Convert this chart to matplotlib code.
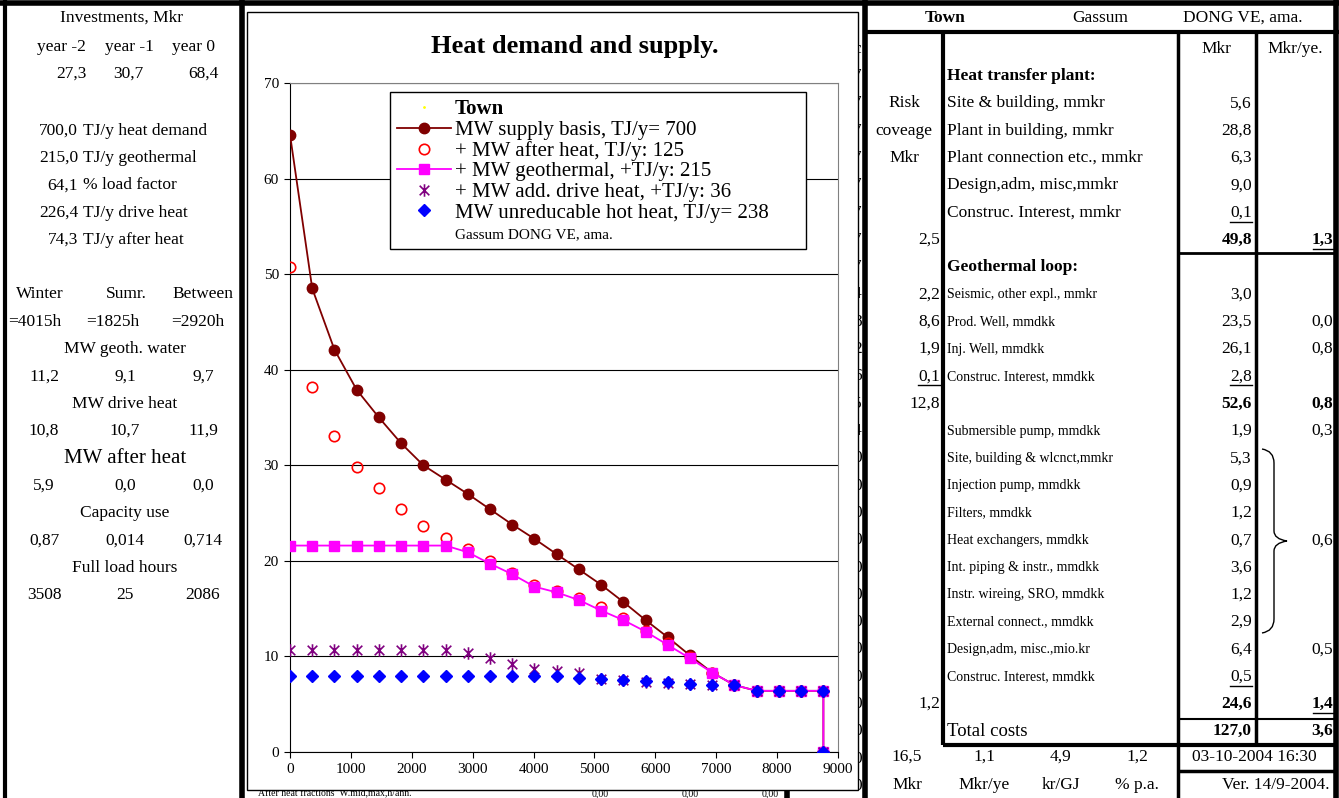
import matplotlib
matplotlib.use("Agg")
import matplotlib.pyplot as plt
from matplotlib.lines import Line2D
from matplotlib.patches import Rectangle, PathPatch
from matplotlib.path import Path

plt.rcParams['font.family'] = ['Liberation Serif', 'DejaVu Serif']

# Chart data (hours of the year, MW)
hours = [0, 365, 730, 1095, 1460, 1825, 2190, 2555, 2920, 3285, 3650, 4015, 4380,
         4745, 5110, 5475, 5840, 6205, 6570, 6935, 7300, 7665, 8030, 8395, 8760, 8760]
supply_basis = [64.6, 48.5, 42.1, 37.9, 35.0, 32.3, 30.0, 28.5, 27.0, 25.4, 23.8, 22.3, 20.7,
                19.1, 17.5, 15.7, 13.8, 12.0, 10.1, 8.3, 7.0, 6.4, 6.4, 6.4, 6.4, 0.0]
after_heat = [50.7, 38.2, 33.1, 29.8, 27.6, 25.4, 23.6, 22.4, 21.2, 20.0, 18.7, 17.5, 16.8,
              16.1, 15.2, 14.0, 12.7, 11.4, 9.9, 8.3, 7.0, 6.4, 6.4, 6.4, 6.4, 0.0]
geothermal = [21.6, 21.6, 21.6, 21.6, 21.6, 21.6, 21.6, 21.6, 20.9, 19.7, 18.6, 17.3, 16.7,
              15.9, 14.8, 13.8, 12.6, 11.2, 9.8, 8.3, 7.0, 6.4, 6.4, 6.4, 6.4, 0.0]
drive_heat = [10.7, 10.7, 10.7, 10.7, 10.7, 10.7, 10.7, 10.7, 10.4, 9.8, 9.2, 8.7, 8.5,
              8.3, 7.6, 7.5, 7.3, 7.2, 7.1, 7.0, 7.0, 6.4, 6.4, 6.4, 6.4, 0.0]
unreducable = [7.9, 7.9, 7.9, 7.9, 7.9, 7.9, 7.9, 7.9, 7.9, 7.9, 7.9, 8.0, 7.9,
               7.7, 7.6, 7.5, 7.4, 7.3, 7.1, 7.0, 7.0, 6.4, 6.4, 6.4, 6.4, 0.0]

legend_labels = ["Town", "MW supply basis, TJ/y= 700", "+ MW after heat, TJ/y: 125",
                 "+ MW geothermal, +TJ/y: 215", "+ MW add. drive heat, +TJ/y: 36",
                 "MW unreducable hot heat, TJ/y= 238", "Gassum DONG VE, ama."]

# Left panel
inv_years = ["year -2", "year -1", "year 0"]
inv_values = ["27,3", "30,7", "68,4"]
summary_nums = ["700,0", "215,0", "64,1", "226,4", "74,3"]
summary_txt = ["TJ/y heat demand", "TJ/y geothermal", "% load factor", "TJ/y drive heat", "TJ/y after heat"]
seasons = ["Winter", "Sumr.", "Between"]
season_hours = ["=4015h", "=1825h", "=2920h"]
season_blocks = [("MW geoth. water", ["11,2", "9,1", "9,7"]),
                 ("MW drive heat", ["10,8", "10,7", "11,9"]),
                 ("MW after heat", ["5,9", "0,0", "0,0"]),
                 ("Capacity use", ["0,87", "0,014", "0,714"]),
                 ("Full load hours", ["3508", "25", "2086"])]

# Right table
ht_labels = ["Site & building, mmkr", "Plant in building, mmkr", "Plant connection etc., mmkr",
             "Design,adm, misc,mmkr", "Construc. Interest, mmkr"]
ht_mkr = ["5,6", "28,8", "6,3", "9,0", "0,1"]
risk_words = ["Risk", "coveage", "Mkr"]
geo_labels = ["Seismic, other expl., mmkr", "Prod. Well, mmdkk", "Inj. Well, mmdkk",
              "Construc. Interest, mmdkk"]
geo_mkr = ["3,0", "23,5", "26,1", "2,8"]
geo_year = ["", "0,0", "0,8", ""]
geo_risk = ["2,2", "8,6", "1,9", "0,1"]
surf_labels = ["Submersible pump, mmdkk", "Site, building & wlcnct,mmkr", "Injection pump, mmdkk",
               "Filters, mmdkk", "Heat exchangers, mmdkk", "Int. piping & instr., mmdkk",
               "Instr. wireing, SRO, mmdkk", "External connect., mmdkk",
               "Design,adm, misc.,mio.kr", "Construc. Interest, mmdkk"]
surf_mkr = ["1,9", "5,3", "0,9", "1,2", "0,7", "3,6", "1,2", "2,9", "6,4", "0,5"]
surf_year = ["0,3", "", "", "", "0,6", "", "", "", "0,5", ""]
subtotals = {"ht": ("2,5", "49,8", "1,3"), "geo": ("12,8", "52,6", "0,8"), "surf": ("1,2", "24,6", "1,4")}
total_costs = ("127,0", "3,6")
bottom_vals = ["16,5", "1,1", "4,9", "1,2"]
bottom_units = ["Mkr", "Mkr/ye", "kr/GJ", "% p.a."]
edge_chars = ["c", "7", "7", "7", "7", "7", "7", "7", "7", "4", "8", "2", "6", "5", "4",
              "0", "0", "0", "0", "0", "0", "0", "0", "0", "0", "0", "0", "0"]

W, H = 1339, 798
fig = plt.figure(figsize=(W / 100, H / 100), dpi=100)
bg = fig.add_axes([0, 0, 1, 1])
bg.set_xlim(0, W)
bg.set_ylim(H, 0)
bg.axis('off')

FS = 12.5
SMALL = 10


def row(n):
    return 21.5 + 27.3 * n


def put(x, y, s, ha='center', size=FS, weight='normal', z=3):
    bg.text(x, y, s, ha=ha, va='center', fontsize=size, fontweight=weight, zorder=z)


def underline(x_right, y, width):
    bg.plot([x_right - width, x_right], [y + 9, y + 9], color='black', lw=1, zorder=3)


def hline(x0, x1, y, lw=2.5):
    bg.plot([x0, x1], [y, y], color='black', lw=lw, solid_capstyle='butt', zorder=4)


def vline(x, y0, y1, lw=2.5):
    bg.plot([x, x], [y0, y1], color='black', lw=lw, solid_capstyle='butt', zorder=4)


# ---- left panel ----
put(122, 18, "Investments, Mkr")
for cx, s in zip([61, 129, 194], inv_years):
    put(cx, 47, s)
for cx, s in zip([71, 128, 203], inv_values):
    put(cx, 74, s)
for i, (num, txt) in enumerate(zip(summary_nums, summary_txt)):
    put(78, row(4 + i), num, ha='right')
    put(83, row(4 + i), txt, ha='left')
for cx, s in zip([40, 126, 203], seasons):
    put(cx, row(10), s)
for cx, s in zip([35, 113, 198], season_hours):
    put(cx, row(11), s)
for k, (title, vals) in enumerate(season_blocks):
    put(125, row(12 + 2 * k), title, size=15 if title == "MW after heat" else FS)
    for cx, s in zip([44, 125, 203], vals):
        put(cx, row(13 + 2 * k), s)

# ---- hidden cells peeking out at the chart edge ----
for i, ch in enumerate(edge_chars):
    put(853, row(1 + i), ch, ha='left', z=1)
put(258, 794, "After heat fractions  W.mid,max,h/ann.", ha='left', size=7, z=1)
for cx in [600, 690, 770]:
    put(cx, 794, "0,00", size=7, z=1)

# chart area
bg.add_patch(Rectangle((247, 12), 611, 778, facecolor='white', edgecolor='black', lw=1, zorder=2))

# ---- right table ----
put(945, 18, "Town", weight='bold')
put(1100, 18, "Gassum")
put(1243, 18, "DONG VE, ama.")
put(1216, row(1), "Mkr")
put(1295, row(1), "Mkr/ye.")
put(947, row(2), "Heat transfer plant:", ha='left', weight='bold')
for i, w in enumerate(risk_words):
    put(904, row(3 + i), w)
for i, (lab, v) in enumerate(zip(ht_labels, ht_mkr)):
    put(947, row(3 + i), lab, ha='left')
    put(1252, row(3 + i), v, ha='right')
underline(1252, row(7), 22)
put(940, row(8), subtotals["ht"][0], ha='right')
put(1252, row(8), subtotals["ht"][1], ha='right', weight='bold')
put(1333, row(8), subtotals["ht"][2], ha='right', weight='bold')
underline(1333, row(8), 20)

put(947, row(9), "Geothermal loop:", ha='left', weight='bold')
for i, (lab, v, yv, r) in enumerate(zip(geo_labels, geo_mkr, geo_year, geo_risk)):
    put(947, row(10 + i), lab, ha='left', size=SMALL)
    put(1252, row(10 + i), v, ha='right')
    put(1333, row(10 + i), yv, ha='right')
    put(940, row(10 + i), r, ha='right')
underline(1252, row(13), 22)
underline(940, row(13), 22)
put(940, row(14), subtotals["geo"][0], ha='right')
put(1252, row(14), subtotals["geo"][1], ha='right', weight='bold')
put(1333, row(14), subtotals["geo"][2], ha='right', weight='bold')

for i, (lab, v, yv) in enumerate(zip(surf_labels, surf_mkr, surf_year)):
    put(947, row(15 + i), lab, ha='left', size=SMALL)
    put(1252, row(15 + i), v, ha='right')
    put(1333, row(15 + i), yv, ha='right')
underline(1252, row(24), 22)
put(940, row(25), subtotals["surf"][0], ha='right')
put(1252, row(25), subtotals["surf"][1], ha='right', weight='bold')
put(1333, row(25), subtotals["surf"][2], ha='right', weight='bold')
underline(1333, row(25), 20)
put(947, row(26), "Total costs", ha='left', size=13.5)
put(1252, row(26), total_costs[0], ha='right', weight='bold')
put(1333, row(26), total_costs[1], ha='right', weight='bold')

for cx, v, u in zip([907, 984, 1061, 1137], bottom_vals, bottom_units):
    put(cx, 757, v)
    put(cx, 785, u)
put(1254, 757, "03-10-2004 16:30")
put(1330, 785, "Ver. 14/9-2004.", ha='right')

# brace
brace = Path([(1262, 449), (1274, 451), (1274, 463), (1274, 531), (1274, 539), (1287, 541),
              (1274, 543), (1274, 551), (1274, 619), (1274, 631), (1262, 633)],
             [Path.MOVETO, Path.CURVE3, Path.CURVE3, Path.LINETO, Path.CURVE3, Path.CURVE3,
              Path.CURVE3, Path.CURVE3, Path.LINETO, Path.CURVE3, Path.CURVE3])
bg.add_patch(PathPatch(brace, facecolor='none', edgecolor='black', lw=1, zorder=3))

# borders
hline(0, W, 3, lw=4)
vline(5, 0, H, lw=3)
vline(242, 0, H, lw=4)
vline(865, 0, H, lw=4)
vline(1336, 0, H, lw=4)
hline(865, W, 32, lw=3)
vline(943, 32, 745, lw=3)
vline(1178, 32, H, lw=2.5)
vline(1256, 32, 745, lw=2.5)
hline(1178, 1336, 253, lw=2)
hline(1178, 1336, 719, lw=1.5)
hline(943, 1336, 745, lw=3)
hline(1178, 1336, 771, lw=2.5)
vline(787, 790, H, lw=4)

# ---- chart ----
fig.text(575 / W, 1 - 47 / H, "Heat demand and supply.", ha='center', va='center',
         fontsize=19, fontweight='bold')

ax = fig.add_axes([290 / W, 46 / H, 548 / W, 669 / H])
ax.set_xlim(0, 9000)
ax.set_ylim(0, 70)
ax.set_xticks(range(0, 9001, 1000))
ax.set_yticks(range(0, 71, 10))
ax.yaxis.grid(True, color='black', lw=0.8)
ax.set_axisbelow(True)
for side in ['top', 'right']:
    ax.spines[side].set_color('#808080')
ax.tick_params(labelsize=11, length=4, pad=4)

# Excel style star: an X with a vertical bar
star = Path([(-1, -1), (1, 1), (-1, 1), (1, -1), (0, -1.3), (0, 1.3)],
            [Path.MOVETO, Path.LINETO, Path.MOVETO, Path.LINETO, Path.MOVETO, Path.LINETO])

ax.plot(hours, supply_basis, color='#800000', lw=1.3, marker='o', ms=7.5, zorder=3)
ax.plot(hours, after_heat, ls='none', marker='o', ms=7.5, mfc='none', mec='#FF0000', mew=1.2, zorder=4)
ax.plot(hours, geothermal, color='#FF00FF', lw=1.3, marker='s', ms=6.5, zorder=5)
ax.plot(hours, drive_heat, ls='none', marker=star, ms=9, mec='#800080', mew=1.2, zorder=6)
ax.plot(hours, unreducable, ls='none', marker='D', ms=6.5, color='#0000FF', zorder=7)

handles = [Line2D([], [], ls='none', marker='.', ms=2, color='yellow'),
           Line2D([], [], color='#800000', lw=1.3, marker='o', ms=7.5),
           Line2D([], [], ls='none', marker='o', ms=7.5, mfc='none', mec='#FF0000', mew=1.2),
           Line2D([], [], color='#FF00FF', lw=1.3, marker='s', ms=6.5),
           Line2D([], [], ls='none', marker=star, ms=9, mec='#800080', mew=1.2),
           Line2D([], [], ls='none', marker='D', ms=6.5, color='#0000FF'),
           Line2D([], [], ls='none')]
leg = fig.legend(handles, legend_labels, loc='upper left',
                 bbox_to_anchor=(390 / W, 1 - 92 / H - 0.01, 416 / W, 0.01), mode='expand',
                 fontsize=15, frameon=True, fancybox=False, edgecolor='black',
                 framealpha=1, handlelength=2.6, handletextpad=0.15, labelspacing=0.05,
                 borderpad=0.35, numpoints=1, borderaxespad=0)
leg.get_frame().set_linewidth(1)
texts = leg.get_texts()
texts[0].set_fontweight('bold')
texts[-1].set_fontsize(11)

fig.savefig("out.png", dpi=100)
